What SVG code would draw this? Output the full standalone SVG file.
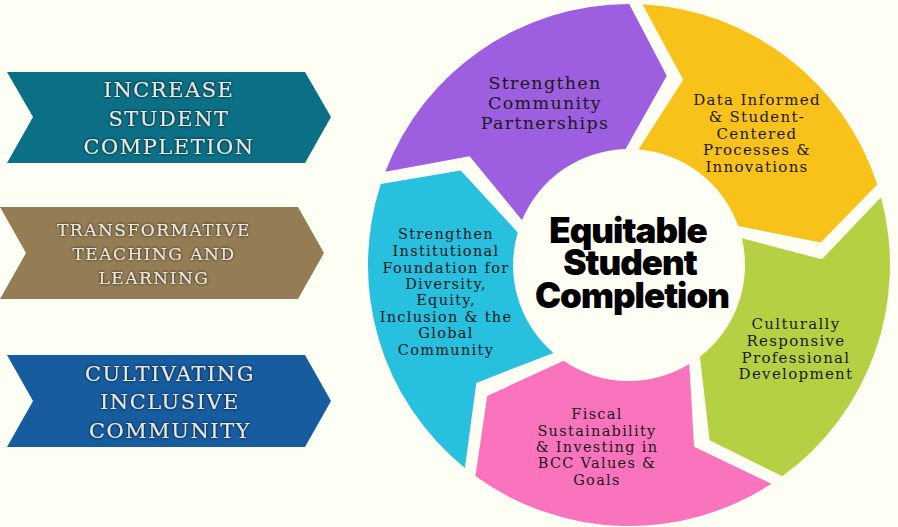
<svg xmlns="http://www.w3.org/2000/svg" width="898" height="527" viewBox="0 0 898 527">
<defs>
<filter id="glow" x="-10%" y="-30%" width="120%" height="160%">
<feGaussianBlur in="SourceAlpha" stdDeviation="1.6" result="b"/>
<feComponentTransfer in="b" result="s"><feFuncA type="linear" slope="0.9"/></feComponentTransfer>
<feMerge><feMergeNode in="s"/><feMergeNode in="SourceGraphic"/></feMerge>
</filter>
</defs>
<style>
.arr text{font-family:"DejaVu Serif",serif;fill:#ebe9df;text-anchor:middle;letter-spacing:1.5px;filter:url(#glow)}
.seg text{font-family:"DejaVu Serif",serif;fill:#1a1a1a;text-anchor:middle;letter-spacing:1.3px}
.ctr text{font-family:Inter,"Open Sans",sans-serif;font-weight:900;fill:#000;text-anchor:middle;letter-spacing:-1px}
</style>
<rect width="898" height="527" fill="#fdfef4"/>

<g id="arrow-completion" class="arr">
<polygon points="7,72 305,72 331,117 305,163 7,163 33,117" fill="#0b6f85"/>
<text font-size="21"><tspan x="169" y="97">INCREASE</tspan><tspan x="169" y="126">STUDENT</tspan><tspan x="169" y="154">COMPLETION</tspan></text>
</g>
<g id="arrow-teaching" class="arr">
<polygon points="0,207 298,207 324,253 298,299 0,299 26,253" fill="#947d54"/>
<text font-size="17" letter-spacing="1.9"><tspan x="154" y="236">TRANSFORMATIVE</tspan><tspan x="154" y="260">TEACHING AND</tspan><tspan x="154" y="284">LEARNING</tspan></text>
</g>
<g id="arrow-inclusive" class="arr">
<polygon points="7,355 305,355 331,401 305,447 7,447 33,401" fill="#175c9f"/>
<text font-size="21"><tspan x="170" y="381">CULTIVATING</tspan><tspan x="170" y="409">INCLUSIVE</tspan><tspan x="170" y="438">COMMUNITY</tspan></text>
</g>

<g id="seg-partnerships" class="seg">
<path d="M385.3,171.7 A261,261 0 0 1 629.2,4 L666.8,75.7 L625.6,149 A116,116 0 0 0 522,220.2 L469.6,156.2 Z" fill="#9d5fe0"/>
<text font-size="17.5"><tspan x="545" y="89">Strengthen</tspan><tspan x="545" y="109">Community</tspan><tspan x="545" y="129">Partnerships</tspan></text>
</g>
<g id="seg-data" class="seg">
<path d="M642.4,4.3 A261,261 0 0 1 877.3,184.6 L820.7,242.5 L738.2,225.9 A116,116 0 0 0 638.5,149.4 L683.2,79.8 Z" fill="#f8c21b"/>
<text font-size="15"><tspan x="757" y="105">Data Informed</tspan><tspan x="757" y="122">&amp; Student-</tspan><tspan x="757" y="139">Centered</tspan><tspan x="757" y="155">Processes &amp;</tspan><tspan x="757" y="172">Innovations</tspan></text>
</g>
<g id="seg-professional" class="seg">
<path d="M881,197.2 A261,261 0 0 1 782.2,476.3 L709.6,440.3 L699.9,356.8 A116,116 0 0 0 741.9,238.3 L821.9,259.3 Z" fill="#b6d043"/>
<text font-size="15"><tspan x="796" y="329">Culturally</tspan><tspan x="796" y="346">Responsive</tspan><tspan x="796" y="363">Professional</tspan><tspan x="796" y="379">Development</tspan></text>
</g>
<g id="seg-fiscal" class="seg">
<path d="M771.3,483.8 A261,261 0 0 1 475.4,476 L487.2,395.9 L563.6,360.8 A116,116 0 0 0 689.3,364.1 L694.1,446.7 Z" fill="#fa73bd"/>
<text font-size="14.5"><tspan x="597" y="419">Fiscal</tspan><tspan x="597" y="436">Sustainability</tspan><tspan x="597" y="452">&amp; Investing in</tspan><tspan x="597" y="468">BCC Values &amp;</tspan><tspan x="597" y="485">Goals</tspan></text>
</g>
<g id="seg-foundation" class="seg">
<path d="M464.9,468 A261,261 0 0 1 380.8,184.1 L460.7,170.5 L517.7,232.4 A116,116 0 0 0 553.4,352.9 L476.3,383 Z" fill="#27c0df"/>
<text font-size="14.5" letter-spacing="1"><tspan x="446" y="239">Strengthen</tspan><tspan x="446" y="256">Institutional</tspan><tspan x="446" y="273">Foundation for</tspan><tspan x="446" y="289">Diversity,</tspan><tspan x="446" y="305">Equity,</tspan><tspan x="446" y="322">Inclusion &amp; the</tspan><tspan x="446" y="338">Global</tspan><tspan x="446" y="355">Community</tspan></text>
</g>

<g id="center" class="ctr">
<text font-size="35"><tspan x="628" y="243">Equitable</tspan><tspan x="630" y="275">Student</tspan><tspan x="632" y="308">Completion</tspan></text>
</g>

<g id="connectors"/>
</svg>
